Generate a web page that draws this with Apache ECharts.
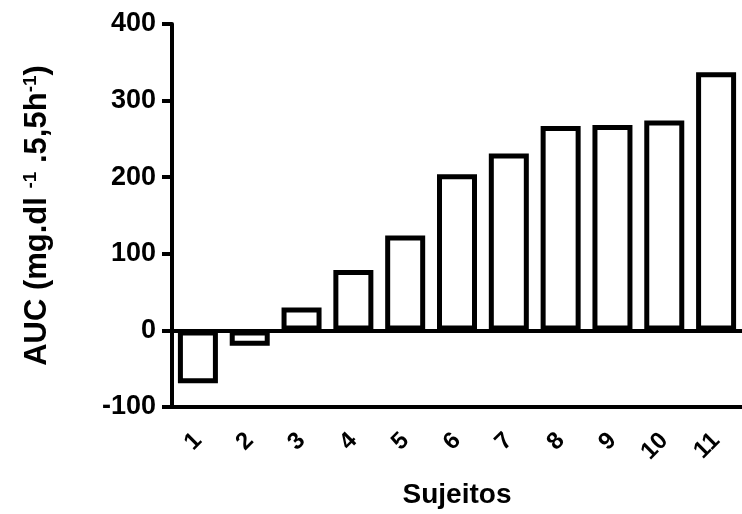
<!DOCTYPE html>
<html>
<head>
<meta charset="utf-8">
<script src="https://cdn.jsdelivr.net/npm/echarts@6/dist/echarts.min.js"></script>
<style>
  html, body { margin: 0; padding: 0; background: #fff; }
  #graph_container { width: 742px; height: 514px; }
</style>
</head>
<body>
<div id="graph_container"></div>
<script>
(function (window, echarts) {

    var subjects = ["1", "2", "3", "4", "5", "6", "7", "8", "9", "10", "11"];
    var aucData = [-69, -20, 30, 79, 124, 204, 231, 267, 268, 274, 337];
    var yTicks = [-100, 0, 100, 200, 300, 400];

    var font = "Liberation Sans, Arial, sans-serif";

    var chart = echarts.init(document.getElementById("graph_container"));
    var option = {
        animation: false,
        grid: {
            left: 172,
            right: -6,
            top: 24,
            bottom: 106
        },
        xAxis: {
            type: "category",
            data: subjects,
            name: "Sujeitos",
            nameLocation: "middle",
            nameGap: 74,
            nameTextStyle: {
                fontFamily: font,
                fontWeight: "bold",
                fontSize: 28,
                color: "#000"
            },
            axisLine: {
                onZero: false,
                lineStyle: { color: "#000", width: 4 }
            },
            axisTick: {
                alignWithLabel: true,
                length: 10,
                lineStyle: { color: "#000", width: 4 }
            },
            axisLabel: {
                rotate: 45,
                margin: 30,
                fontFamily: font,
                fontWeight: "bold",
                fontSize: 24,
                color: "#000"
            }
        },
        yAxis: {
            type: "value",
            min: yTicks[0],
            max: yTicks[yTicks.length - 1],
            interval: 100,
            name: "AUC (mg.dl {sup|-1} .5,5h{sup|-1})",
            nameLocation: "middle",
            nameRotate: 90,
            nameGap: 118,
            nameTextStyle: {
                fontFamily: font,
                fontWeight: "bold",
                fontSize: 31,
                color: "#000",
                rich: {
                    sup: {
                        fontFamily: font,
                        fontWeight: "bold",
                        fontSize: 19,
                        color: "#000",
                        verticalAlign: "top",
                        padding: [0, 0, 14, 0]
                    }
                }
            },
            splitLine: { show: false },
            axisLine: {
                show: true,
                lineStyle: { color: "#000", width: 4 }
            },
            axisTick: {
                show: true,
                length: 10,
                lineStyle: { color: "#000", width: 4 }
            },
            axisLabel: {
                margin: 16,
                fontFamily: font,
                fontWeight: "bold",
                fontSize: 27,
                color: "#000"
            }
        },
        series: [{
            name: "AUC",
            type: "bar",
            data: aucData,
            barWidth: 40,
            itemStyle: {
                color: "#fff",
                borderColor: "#000",
                borderWidth: 5
            },
            markLine: {
                silent: true,
                symbol: "none",
                label: { show: false },
                lineStyle: { color: "#000", width: 4, type: "solid" },
                data: [{ yAxis: 0 }]
            }
        }]
    };

    chart.setOption(option);

})(window, echarts);
</script>
</body>
</html>
